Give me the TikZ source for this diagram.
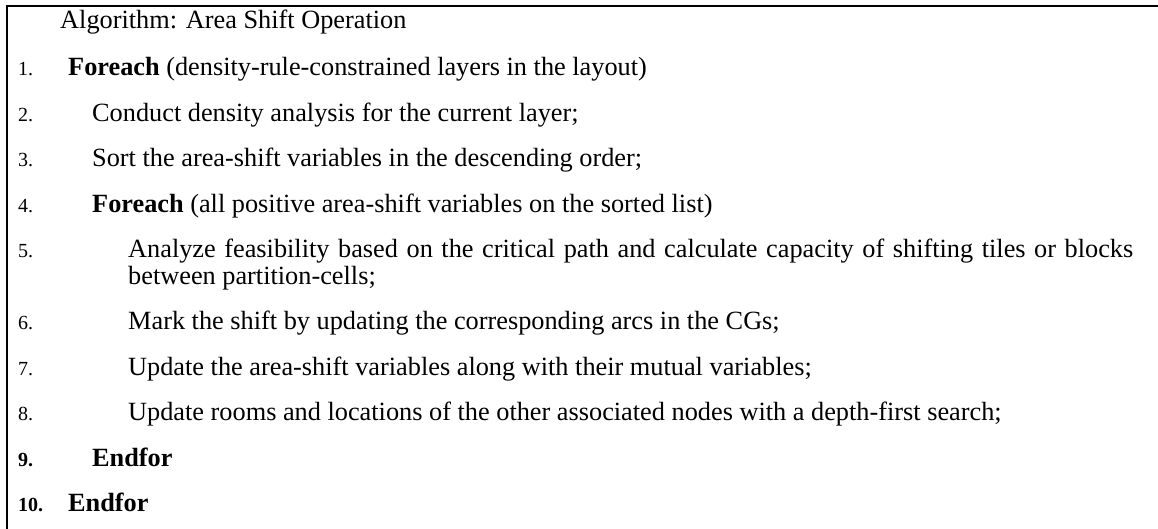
\documentclass[tikz,border=0pt]{standalone}
\usepackage{fontspec}
\setmainfont{Liberation Serif}
\begin{document}
\begin{tikzpicture}[x=1pt,y=-1pt,
  num/.style={anchor=base west, inner sep=0pt, font=\fontsize{20}{24}\selectfont},
  txt/.style={anchor=base west, inner sep=0pt, font=\fontsize{26.3}{30}\selectfont},
  rule/.style={line width=2pt, black}]
\useasboundingbox (0,0) rectangle (1158,529);
\draw[rule] (6,5.8) -- (1158,5.8);
\draw[rule] (7,4.8) -- (7,529);
\node[txt] (title) at (60,29) {Algorithm: Area Shift Operation};
\node[num] (n1) at (18,76) {1.};
\node[txt] (t1) at (68,76) {\textbf{Foreach} (density-rule-constrained layers in the layout)};
\node[num] (n2) at (18,121.5) {2.};
\node[txt] (t2) at (92,121.5) {Conduct density analysis for the current layer;};
\node[num] (n3) at (18,167) {3.};
\node[txt] (t3) at (92,167) {Sort the area-shift variables in the descending order;};
\node[num] (n4) at (18,212.5) {4.};
\node[txt] (t4) at (92,212.5) {\textbf{Foreach} (all positive area-shift variables on the sorted list)};
\node[num] (n5) at (18,258) {5.};
\node[txt] (t5a) at (128,258) {\makebox[1005pt][s]{Analyze feasibility based on the critical path and calculate capacity of shifting tiles or blocks}};
\node[txt] (t5b) at (128,284) {between partition-cells;};
\node[num] (n6) at (18,329.5) {6.};
\node[txt] (t6) at (128,329.5) {Mark the shift by updating the corresponding arcs in the CGs;};
\node[num] (n7) at (18,375) {7.};
\node[txt] (t7) at (128,375) {Update the area-shift variables along with their mutual variables;};
\node[num] (n8) at (18,420.5) {8.};
\node[txt] (t8) at (128,420.5) {Update rooms and locations of the other associated nodes with a depth-first search;};
\node[num] (n9) at (18,466) {\textbf{9.}};
\node[txt] (t9) at (92,466) {\textbf{Endfor}};
\node[num] (n10) at (18,511.5) {\textbf{10.}};
\node[txt] (t10) at (68,511.5) {\textbf{Endfor}};
\end{tikzpicture}
\end{document}
